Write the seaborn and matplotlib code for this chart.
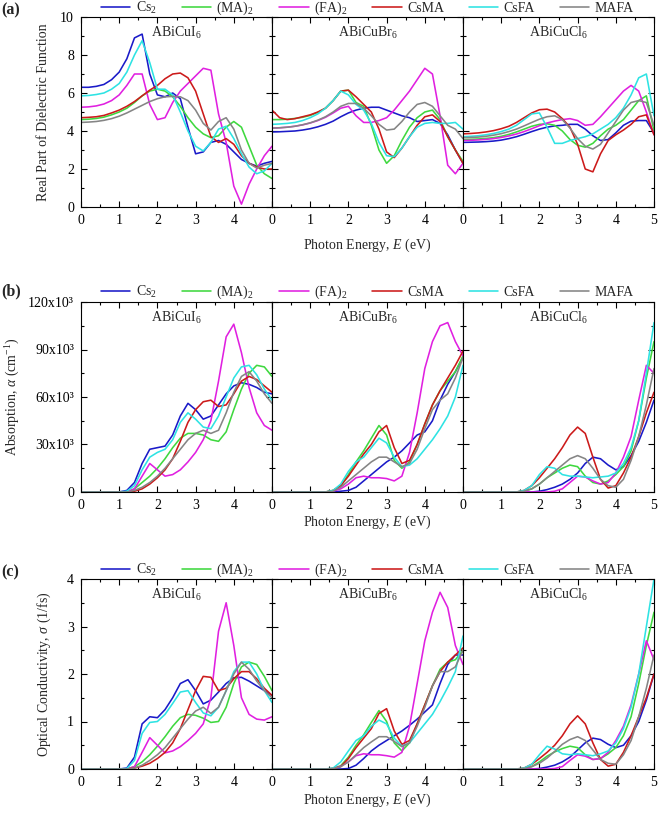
import numpy as np
import pandas as pd
import matplotlib
matplotlib.use("Agg")
import matplotlib.pyplot as plt
import seaborn as sns
from matplotlib.ticker import MultipleLocator, FixedLocator

sns.set_theme(style="ticks")
plt.rcParams['font.family'] = ['Liberation Serif', 'DejaVu Serif']
plt.rcParams['mathtext.fontset'] = 'custom'
plt.rcParams['mathtext.rm'] = 'Liberation Serif'
plt.rcParams['mathtext.it'] = 'Liberation Serif:italic'
plt.rcParams['mathtext.bf'] = 'Liberation Serif:bold'

# ---------------- data ----------------
energy = [0.0, 0.2, 0.4, 0.6, 0.8, 1.0, 1.2, 1.4, 1.6, 1.8, 2.0, 2.2, 2.4,
          2.6, 2.8, 3.0, 3.2, 3.4, 3.6, 3.8, 4.0, 4.2, 4.4, 4.6, 4.8, 5.0]
series = ["Cs$_2$", "(MA)$_2$", "(FA)$_2$", "CsMA", "CsFA", "MAFA"]
colors = ["#1a1ac8", "#3fd83f", "#e020e0", "#cc1a1a", "#2ee3e3", "#858585"]
compounds = ["ABiCuI$_6$", "ABiCuBr$_6$", "ABiCuCl$_6$"]

# (a) real part of dielectric function
eps_I_Cs2 = [6.3, 6.3, 6.35, 6.45, 6.7, 7.1, 7.8, 8.9, 9.1, 7.0, 5.9, 5.8, 6.0, 5.7, 4.2, 2.8, 2.9, 3.4, 3.5, 3.3, 2.9, 2.5, 2.3, 2.15, 2.3, 2.4]
eps_I_MA2 = [4.6, 4.62, 4.66, 4.73, 4.85, 5.0, 5.2, 5.5, 5.85, 6.1, 6.2, 6.1, 5.8, 5.3, 4.7, 4.2, 3.85, 3.65, 3.75, 4.2, 4.5, 4.2, 3.2, 2.2, 1.75, 1.5]
eps_I_FA2 = [5.25, 5.27, 5.32, 5.42, 5.6, 5.9, 6.4, 7.0, 7.0, 5.4, 4.6, 4.7, 5.5, 6.1, 6.5, 6.9, 7.3, 7.2, 4.9, 3.4, 1.1, 0.15, 1.2, 2.0, 2.7, 3.2]
eps_I_CsMA = [4.7, 4.72, 4.75, 4.82, 4.95, 5.1, 5.3, 5.55, 5.85, 6.15, 6.4, 6.75, 7.0, 7.05, 6.8, 6.1, 4.9, 3.7, 3.4, 3.6, 3.3, 2.7, 2.3, 2.1, 2.0, 2.0]
eps_I_CsFA = [5.85, 5.87, 5.92, 6.0, 6.2, 6.5, 7.1, 8.0, 8.75, 7.6, 6.2, 6.2, 5.9, 5.0, 4.0, 3.2, 2.95, 3.4, 4.1, 4.25, 3.6, 2.8, 2.1, 1.75, 1.9, 2.3]
eps_I_MAFA = [4.45, 4.47, 4.5, 4.56, 4.65, 4.78, 4.95, 5.15, 5.35, 5.55, 5.7, 5.8, 5.82, 5.8, 5.6, 5.1, 4.4, 4.05, 4.5, 4.7, 4.1, 3.0, 2.3, 2.05, 2.2, 2.3]

eps_Br_Cs2 = [3.95, 3.96, 3.98, 4.0, 4.05, 4.12, 4.22, 4.35, 4.52, 4.75, 4.95, 5.1, 5.2, 5.25, 5.25, 5.1, 4.95, 4.8, 4.7, 4.5, 4.55, 4.6, 4.4, 3.8, 3.0, 2.3]
eps_Br_MA2 = [4.6, 4.6, 4.62, 4.66, 4.72, 4.82, 4.98, 5.2, 5.6, 6.1, 6.15, 5.5, 5.3, 4.3, 3.0, 2.3, 2.7, 3.5, 4.2, 4.7, 5.0, 5.1, 4.6, 3.7, 3.0, 2.4]
eps_Br_FA2 = [4.15, 4.17, 4.2, 4.25, 4.32, 4.42, 4.55, 4.72, 4.95, 5.2, 5.3, 4.8, 4.45, 4.45, 4.55, 4.7, 5.1, 5.6, 6.1, 6.7, 7.3, 7.0, 4.8, 2.2, 1.75, 2.3]
eps_Br_CsMA = [5.1, 4.7, 4.6, 4.65, 4.75, 4.85, 5.0, 5.2, 5.6, 6.1, 6.15, 5.8, 5.4, 5.0, 4.1, 2.9, 2.6, 3.1, 3.7, 4.3, 4.75, 4.85, 4.5, 3.7, 3.0, 2.3]
eps_Br_CsFA = [4.35, 4.37, 4.4, 4.45, 4.55, 4.7, 4.9, 5.2, 5.6, 6.1, 5.9, 5.4, 5.1, 4.4, 3.4, 2.7, 2.65, 3.1, 3.7, 4.2, 4.4, 4.45, 4.4, 4.4, 4.45, 4.1]
eps_Br_MAFA = [4.15, 4.17, 4.2, 4.25, 4.33, 4.43, 4.57, 4.75, 5.0, 5.3, 5.45, 5.45, 5.2, 4.8, 4.35, 4.05, 4.1, 4.5, 5.0, 5.4, 5.5, 5.3, 4.8, 4.3, 4.1, 3.6]

eps_Cl_Cs2 = [3.4, 3.41, 3.42, 3.44, 3.47, 3.52, 3.6, 3.7, 3.83, 3.97, 4.1, 4.2, 4.27, 4.3, 4.35, 4.35, 4.1, 3.75, 3.5, 3.55, 3.9, 4.3, 4.52, 4.55, 4.55, 3.9]
eps_Cl_MA2 = [3.55, 3.56, 3.58, 3.61, 3.65, 3.72, 3.82, 3.95, 4.1, 4.25, 4.35, 4.38, 4.3, 4.0, 3.55, 3.25, 3.15, 3.35, 3.75, 4.1, 4.3, 4.6, 5.1, 5.6, 5.85, 4.0]
eps_Cl_FA2 = [3.5, 3.51, 3.53, 3.56, 3.6, 3.66, 3.74, 3.84, 3.97, 4.12, 4.28, 4.42, 4.52, 4.6, 4.65, 4.55, 4.3, 4.35, 4.75, 5.2, 5.65, 6.1, 6.4, 6.1, 5.0, 3.8]
eps_Cl_CsMA = [3.85, 3.87, 3.9, 3.95, 4.02, 4.12, 4.25, 4.45, 4.7, 4.95, 5.12, 5.15, 5.0, 4.65, 4.2, 3.3, 2.0, 1.85, 2.8, 3.5, 3.8, 4.05, 4.35, 4.75, 4.85, 3.8]
eps_Cl_CsFA = [3.7, 3.72, 3.75, 3.8, 3.87, 3.97, 4.1, 4.3, 4.6, 4.9, 4.95, 4.2, 3.35, 3.35, 3.5, 3.6, 3.7, 3.85, 4.1, 4.35, 4.7, 5.2, 5.9, 6.8, 7.0, 4.8]
eps_Cl_MAFA = [3.65, 3.66, 3.68, 3.72, 3.78, 3.86, 3.97, 4.1, 4.27, 4.45, 4.62, 4.75, 4.8, 4.6, 4.15, 3.6, 3.2, 3.05, 3.3, 3.9, 4.5, 5.1, 5.5, 5.6, 5.5, 4.3]

# (b) absorption (x10^3 cm^-1)
abs_I_Cs2 = [0, 0, 0, 0, 0, 0, 1, 6, 18, 27, 28, 29, 36, 48, 56, 52, 46, 48, 55, 62, 67, 69, 68, 66, 63, 62]
abs_I_MA2 = [0, 0, 0, 0, 0, 0, 0, 2, 6, 10, 15, 21, 28, 34, 37, 37, 36, 33, 32, 38, 52, 65, 75, 80, 79, 73]
abs_I_FA2 = [0, 0, 0, 0, 0, 0, 0, 2, 10, 18, 14, 10, 11, 14, 19, 25, 33, 45, 70, 98, 106, 88, 66, 50, 42, 39]
abs_I_CsMA = [0, 0, 0, 0, 0, 0, 0, 0.5, 2, 5, 9, 14, 21, 32, 44, 52, 57, 58, 54, 55, 62, 70, 73, 71, 67, 63]
abs_I_CsFA = [0, 0, 0, 0, 0, 0, 0.5, 4, 14, 22, 25, 27, 33, 44, 50, 46, 41, 40, 48, 60, 72, 79, 80, 74, 65, 58]
abs_I_MAFA = [0, 0, 0, 0, 0, 0, 0, 1, 3, 6, 10, 15, 21, 27, 33, 37, 39, 37, 39, 50, 63, 73, 76, 70, 62, 56]

abs_Br_Cs2 = [0, 0, 0, 0, 0, 0, 0, 0, 0, 0.5, 1, 3, 7, 11, 15, 19, 22, 26, 31, 36, 38, 45, 58, 68, 76, 85]
abs_Br_MA2 = [0, 0, 0, 0, 0, 0, 0, 0, 1, 4, 11, 19, 26, 34, 42, 36, 20, 15, 19, 30, 43, 55, 64, 70, 76, 86]
abs_Br_FA2 = [0, 0, 0, 0, 0, 0, 0, 0, 0.5, 2, 5, 9, 10, 9, 9, 8.5, 7, 10, 25, 50, 78, 95, 105, 107, 95, 86]
abs_Br_CsMA = [0, 0, 0, 0, 0, 0, 0, 0, 1, 4, 10, 17, 24, 30, 38, 42, 28, 18, 20, 30, 43, 55, 64, 72, 80, 89]
abs_Br_CsFA = [0, 0, 0, 0, 0, 0, 0, 0, 1, 5, 13, 19, 22, 28, 34, 31, 22, 16, 17, 21, 27, 33, 40, 48, 60, 80]
abs_Br_MAFA = [0, 0, 0, 0, 0, 0, 0, 0, 0.5, 3, 7, 11, 15, 19, 22, 22, 19, 16, 18, 27, 40, 52, 58, 62, 72, 85]

abs_Cl_Cs2 = [0, 0, 0, 0, 0, 0, 0, 0, 0, 0, 0.5, 1.5, 3, 5, 8, 12, 18, 22, 21, 17, 14, 16, 23, 32, 44, 58]
abs_Cl_MA2 = [0, 0, 0, 0, 0, 0, 0, 0, 0.5, 2, 5, 9, 12, 15, 17, 16, 10, 6, 5, 7, 11, 16, 26, 45, 72, 95]
abs_Cl_FA2 = [0, 0, 0, 0, 0, 0, 0, 0, 0, 0, 0, 0, 0.5, 2, 6, 10, 9.5, 7, 5, 6, 12, 22, 35, 58, 80, 75]
abs_Cl_CsMA = [0, 0, 0, 0, 0, 0, 0, 0, 1, 4, 9, 15, 21, 28, 36, 41, 37, 22, 8, 2.5, 4, 12, 22, 35, 50, 63]
abs_Cl_CsFA = [0, 0, 0, 0, 0, 0, 0, 0, 1, 4, 11, 16, 15, 11, 10, 10, 9.5, 9, 9.5, 10, 12, 18, 28, 45, 75, 107]
abs_Cl_MAFA = [0, 0, 0, 0, 0, 0, 0, 0, 0.5, 2, 5, 9, 13, 17, 21, 23, 21, 15, 8, 4, 3, 8, 20, 35, 55, 78]

# (c) optical conductivity (1/fs)
sig_I_Cs2 = [0, 0, 0, 0, 0, 0, 0.02, 0.25, 0.95, 1.1, 1.08, 1.25, 1.5, 1.8, 1.88, 1.65, 1.37, 1.45, 1.62, 1.8, 1.92, 1.93, 1.85, 1.75, 1.65, 1.55]
sig_I_MA2 = [0, 0, 0, 0, 0, 0, 0, 0.05, 0.15, 0.3, 0.48, 0.68, 0.9, 1.08, 1.15, 1.13, 1.07, 0.98, 1.0, 1.3, 1.8, 2.15, 2.25, 2.2, 1.95, 1.65]
sig_I_FA2 = [0, 0, 0, 0, 0, 0, 0, 0.05, 0.35, 0.66, 0.5, 0.34, 0.38, 0.47, 0.6, 0.75, 0.95, 1.5, 2.9, 3.5, 2.6, 1.5, 1.15, 1.05, 1.03, 1.1]
sig_I_CsMA = [0, 0, 0, 0, 0, 0, 0, 0.02, 0.06, 0.12, 0.22, 0.35, 0.55, 0.85, 1.25, 1.65, 1.95, 1.93, 1.65, 1.7, 1.9, 2.05, 2.05, 1.9, 1.7, 1.55]
sig_I_CsFA = [0, 0, 0, 0, 0, 0, 0.01, 0.18, 0.75, 0.98, 1.0, 1.15, 1.38, 1.62, 1.65, 1.4, 1.18, 1.12, 1.3, 1.65, 2.05, 2.25, 2.25, 2.0, 1.65, 1.4]
sig_I_MAFA = [0, 0, 0, 0, 0, 0, 0, 0.02, 0.08, 0.18, 0.3, 0.45, 0.65, 0.85, 1.05, 1.22, 1.3, 1.17, 1.3, 1.65, 2.0, 2.25, 2.1, 1.85, 1.65, 1.5]

sig_Br_Cs2 = [0, 0, 0, 0, 0, 0, 0, 0, 0, 0, 0.01, 0.08, 0.22, 0.38, 0.5, 0.6, 0.7, 0.8, 0.92, 1.05, 1.2, 1.35, 1.8, 2.2, 2.4, 2.4]
sig_Br_MA2 = [0, 0, 0, 0, 0, 0, 0, 0, 0.01, 0.07, 0.25, 0.5, 0.72, 0.98, 1.23, 1.0, 0.55, 0.38, 0.55, 0.95, 1.35, 1.75, 2.1, 2.25, 2.3, 2.5]
sig_Br_FA2 = [0, 0, 0, 0, 0, 0, 0, 0, 0.01, 0.06, 0.15, 0.28, 0.32, 0.3, 0.3, 0.28, 0.25, 0.35, 0.9, 1.8, 2.7, 3.3, 3.72, 3.4, 2.6, 2.2]
sig_Br_CsMA = [0, 0, 0, 0, 0, 0, 0, 0, 0.01, 0.05, 0.22, 0.45, 0.65, 0.85, 1.17, 1.27, 0.8, 0.52, 0.6, 0.95, 1.35, 1.75, 2.05, 2.25, 2.4, 2.55]
sig_Br_CsFA = [0, 0, 0, 0, 0, 0, 0, 0, 0.02, 0.15, 0.38, 0.6, 0.7, 0.9, 1.03, 0.95, 0.65, 0.48, 0.55, 0.75, 0.95, 1.15, 1.42, 1.72, 2.05, 2.8]
sig_Br_MAFA = [0, 0, 0, 0, 0, 0, 0, 0, 0.01, 0.05, 0.15, 0.3, 0.45, 0.57, 0.68, 0.68, 0.58, 0.47, 0.55, 0.9, 1.3, 1.75, 2.05, 2.05, 2.15, 2.5]

sig_Cl_Cs2 = [0, 0, 0, 0, 0, 0, 0, 0, 0, 0, 0.01, 0.04, 0.08, 0.15, 0.25, 0.4, 0.55, 0.65, 0.62, 0.52, 0.45, 0.5, 0.7, 1.0, 1.45, 2.0]
sig_Cl_MA2 = [0, 0, 0, 0, 0, 0, 0, 0, 0.01, 0.05, 0.15, 0.27, 0.36, 0.43, 0.48, 0.45, 0.3, 0.2, 0.22, 0.32, 0.45, 0.7, 1.1, 1.8, 2.6, 3.3]
sig_Cl_FA2 = [0, 0, 0, 0, 0, 0, 0, 0, 0, 0, 0, 0, 0.01, 0.05, 0.18, 0.3, 0.27, 0.2, 0.22, 0.35, 0.6, 0.9, 1.35, 2.0, 2.7, 2.3]
sig_Cl_CsMA = [0, 0, 0, 0, 0, 0, 0, 0, 0.02, 0.1, 0.22, 0.35, 0.5, 0.7, 0.95, 1.12, 0.95, 0.55, 0.2, 0.06, 0.1, 0.35, 0.7, 1.1, 1.5, 2.0]
sig_Cl_CsFA = [0, 0, 0, 0, 0, 0, 0, 0, 0.02, 0.1, 0.3, 0.48, 0.42, 0.32, 0.3, 0.32, 0.3, 0.28, 0.32, 0.38, 0.55, 0.85, 1.3, 2.0, 3.0, 4.0]
sig_Cl_MAFA = [0, 0, 0, 0, 0, 0, 0, 0, 0.01, 0.05, 0.12, 0.23, 0.37, 0.52, 0.62, 0.68, 0.6, 0.4, 0.2, 0.12, 0.1, 0.3, 0.6, 1.1, 1.7, 2.4]

rows = [
    [[eps_I_Cs2, eps_I_MA2, eps_I_FA2, eps_I_CsMA, eps_I_CsFA, eps_I_MAFA],
     [eps_Br_Cs2, eps_Br_MA2, eps_Br_FA2, eps_Br_CsMA, eps_Br_CsFA, eps_Br_MAFA],
     [eps_Cl_Cs2, eps_Cl_MA2, eps_Cl_FA2, eps_Cl_CsMA, eps_Cl_CsFA, eps_Cl_MAFA]],
    [[abs_I_Cs2, abs_I_MA2, abs_I_FA2, abs_I_CsMA, abs_I_CsFA, abs_I_MAFA],
     [abs_Br_Cs2, abs_Br_MA2, abs_Br_FA2, abs_Br_CsMA, abs_Br_CsFA, abs_Br_MAFA],
     [abs_Cl_Cs2, abs_Cl_MA2, abs_Cl_FA2, abs_Cl_CsMA, abs_Cl_CsFA, abs_Cl_MAFA]],
    [[sig_I_Cs2, sig_I_MA2, sig_I_FA2, sig_I_CsMA, sig_I_CsFA, sig_I_MAFA],
     [sig_Br_Cs2, sig_Br_MA2, sig_Br_FA2, sig_Br_CsMA, sig_Br_CsFA, sig_Br_MAFA],
     [sig_Cl_Cs2, sig_Cl_MA2, sig_Cl_FA2, sig_Cl_CsMA, sig_Cl_CsFA, sig_Cl_MAFA]],
]

ylabels = ["Real Part of Dielectric Function",
           r"Absorption, $\alpha$ (cm$^{-1}$)",
           r"Optical Conductivity, $\sigma$ (1/fs)"]
ylims = [(0, 10), (0, 120), (0, 4)]
ymajor = [2, 30, 1]
yminor = [1, 15, 0.5]
abs_ticklabels = ["0", "30x10³", "60x10³", "90x10³", "120x10³"]
panel_letters = ["(a)", "(b)", "(c)"]

# ---------------- layout ----------------
W, H = 659, 824
fig = plt.figure(figsize=(W / 100, H / 100), dpi=100)
left_px, right_px = 81, 654
row_tops = [17, 302, 579]
row_h = 190
pw = (right_px - left_px) / 3
ylabel_x = [44, 13, 44]
legend_y = [8.5, 292, 570]
xlabel_y = [245, 522, 800]
letter_y = [10, 291, 572]

palette = dict(zip(series, colors))
FS = 10

for r in range(3):
    axes = []
    for c in range(3):
        ax = fig.add_axes([(left_px + c * pw) / W, 1 - (row_tops[r] + row_h) / H,
                           pw / W, row_h / H])
        axes.append(ax)
        recs = []
        for s, vals in zip(series, rows[r][c]):
            for e, v in zip(energy, vals):
                recs.append((e, v, s))
        df = pd.DataFrame(recs, columns=["E", "val", "series"])
        sns.lineplot(data=df, x="E", y="val", hue="series", hue_order=series,
                     palette=palette, ax=ax, legend=False, linewidth=1.15,
                     sort=False, estimator=None)
        ax.set_xlim(0, 5)
        ax.set_ylim(*ylims[r])
        ax.xaxis.set_minor_locator(MultipleLocator(0.5))
        ax.yaxis.set_major_locator(MultipleLocator(ymajor[r]))
        ax.yaxis.set_minor_locator(MultipleLocator(yminor[r]))
        ax.tick_params(which="both", direction="in", top=True, right=True,
                       width=0.8, colors="black", labelsize=FS, pad=5)
        ax.tick_params(which="major", length=4.5)
        ax.tick_params(which="minor", length=2.5)
        xl = ["0", "1", "2", "3", "4", "5"] if c == 2 else ["0", "1", "2", "3", "4", ""]
        ax.xaxis.set_major_locator(FixedLocator([0, 1, 2, 3, 4, 5]))
        ax.set_xticklabels(xl)
        ax.set_xlabel("")
        ax.set_ylabel("")
        if c == 0:
            if r == 1:
                ax.yaxis.set_major_locator(FixedLocator([0, 30, 60, 90, 120]))
                ax.set_yticklabels(abs_ticklabels)
        else:
            ax.tick_params(labelleft=False)
        for sp in ax.spines.values():
            sp.set_linewidth(0.8)
            sp.set_color("black")
        ax.text(0.5, 0.915, compounds[c], transform=ax.transAxes,
                ha="center", va="center", fontsize=FS)
        ax.set_facecolor("white")

    fig.text(ylabel_x[r] / W, 1 - (row_tops[r] + row_h / 2) / H, ylabels[r],
             rotation=90, ha="center", va="center", fontsize=FS)
    fig.text((left_px + right_px) / 2 / W, 1 - xlabel_y[r] / H,
             r"Photon Energy, $E$ (eV)", ha="center", va="center", fontsize=FS)
    fig.text(1 / W, 1 - letter_y[r] / H, panel_letters[r], ha="left", va="center",
             fontsize=FS + 1.5, fontweight="bold")
    handles = axes[0].get_lines()[:6]
    fig.legend(handles, series, loc="center", ncol=6, frameon=False,
               bbox_to_anchor=((left_px + right_px) / 2 / W, 1 - legend_y[r] / H),
               fontsize=FS, handlelength=2.1, handletextpad=0.4,
               columnspacing=1.8, borderaxespad=0, borderpad=0)

fig.savefig("out.png", dpi=100, facecolor="white")
